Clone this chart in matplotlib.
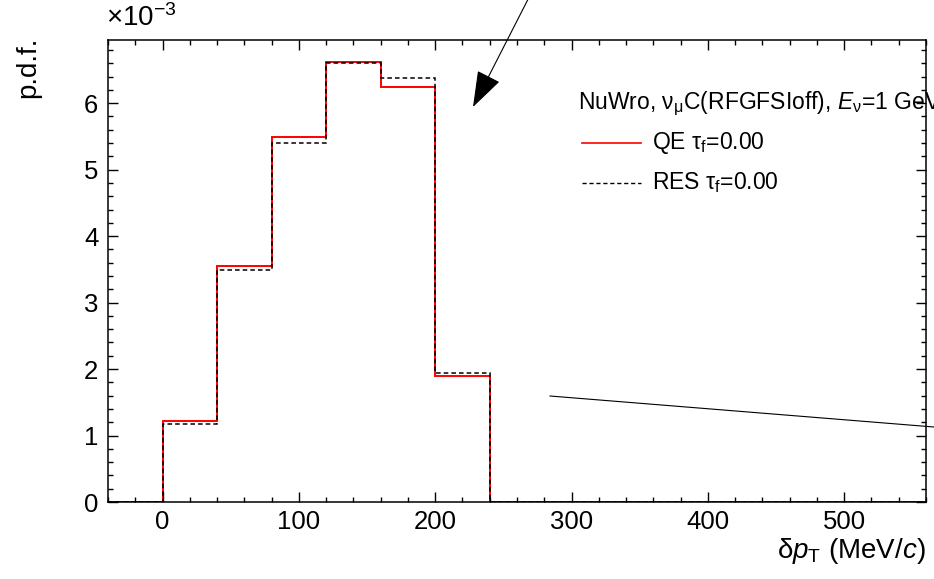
import numpy as np
import matplotlib
matplotlib.use('Agg')
import matplotlib.pyplot as plt
from matplotlib.lines import Line2D

plt.rcParams['font.family'] = ['Liberation Sans', 'DejaVu Sans']
plt.rcParams['mathtext.fontset'] = 'custom'
plt.rcParams['mathtext.rm'] = 'Liberation Sans'
plt.rcParams['mathtext.it'] = 'Liberation Sans:italic'

# histogram bins (MeV/c) and p.d.f. values in units of 1e-3
bin_edges = [-40, 0, 40, 80, 120, 160, 200, 240, 280, 320, 360, 400, 440, 480, 520, 560]
qe_pdf = [0, 1.22, 3.55, 5.49, 6.62, 6.24, 1.89, 0, 0, 0, 0, 0, 0, 0, 0]
res_pdf = [0, 1.17, 3.49, 5.40, 6.60, 6.38, 1.94, 0, 0, 0, 0, 0, 0, 0, 0]

x_ticks = [0, 100, 200, 300, 400, 500]
y_ticks = [0, 1, 2, 3, 4, 5, 6]

W, H = 934, 579


def px(x, y):
    # image pixel (top-left origin) -> figure fraction
    return (x / W, 1 - y / H)


fig = plt.figure(figsize=(W / 100, H / 100), dpi=100)
ax = fig.add_axes([108 / W, (H - 502) / H, (926 - 108) / W, (502 - 40) / H])

ax.stairs(qe_pdf, bin_edges, color='red', lw=1.4, baseline=None)
ax.stairs(res_pdf, bin_edges, color='black', lw=1.1, linestyle=(0, (3, 2)), baseline=None)

ax.set_xlim(-40, 560)
ax.set_ylim(0, 6.95)
ax.set_xticks(x_ticks)
ax.set_yticks(y_ticks)
ax.set_xticks(np.arange(-40, 561, 20), minor=True)
ax.set_yticks(np.arange(0, 6.95, 0.2), minor=True)
ax.tick_params(which='both', direction='in', top=True, right=True, width=1.0,
               labelsize=18.5)
ax.tick_params(which='major', length=7.5)
ax.tick_params(which='minor', length=3.8)
ax.tick_params(axis='x', pad=6)
ax.tick_params(axis='y', pad=7)
for s in ax.spines.values():
    s.set_linewidth(1.1)

# axis titles
fig.text(*px(926, 551), r'$\mathrm{\delta} p_{\mathrm{T}}$ (MeV/$c$)', ha='right', va='center', fontsize=20)
fig.text(*px(28, 37), 'p.d.f.', ha='center', va='top', rotation=90, fontsize=20)
fig.text(*px(106, 18), r'$\times$10$^{-3}$', ha='left', va='center', fontsize=20)

# legend
fig.text(*px(578, 104), r'NuWro, $\mathrm{\nu}_{\mathrm{\mu}}$C(RFGFSIoff), $E_{\mathrm{\nu}}$=1 GeV',
         ha='left', va='center', fontsize=16.5)
fig.add_artist(Line2D([582 / W, 641 / W], [1 - 143 / H, 1 - 143 / H], color='red', lw=1.2,
                      transform=fig.transFigure))
fig.add_artist(Line2D([582 / W, 641 / W], [1 - 183 / H, 1 - 183 / H], color='black', lw=1.0,
                      linestyle=(0, (3, 2)), transform=fig.transFigure))
fig.text(*px(652, 143), r'QE $\mathrm{\tau}_{\mathrm{f}}$=0.00', ha='left', va='center', fontsize=16.5)
fig.text(*px(652, 183), r'RES $\mathrm{\tau}_{\mathrm{f}}$=0.00', ha='left', va='center', fontsize=16.5)

# annotations
ax.annotate('', xy=px(473, 107), xytext=px(544, -32), xycoords='figure fraction',
            arrowprops=dict(arrowstyle='-|>,head_length=23,head_width=8', mutation_scale=1,
                            color='black', lw=0.8, shrinkA=0, shrinkB=0))
fig.add_artist(Line2D([550 / W, 950 / W], [1 - 396 / H, 1 - 428.3 / H], color='black', lw=0.8,
                      transform=fig.transFigure))

fig.savefig('out.png', dpi=100)
